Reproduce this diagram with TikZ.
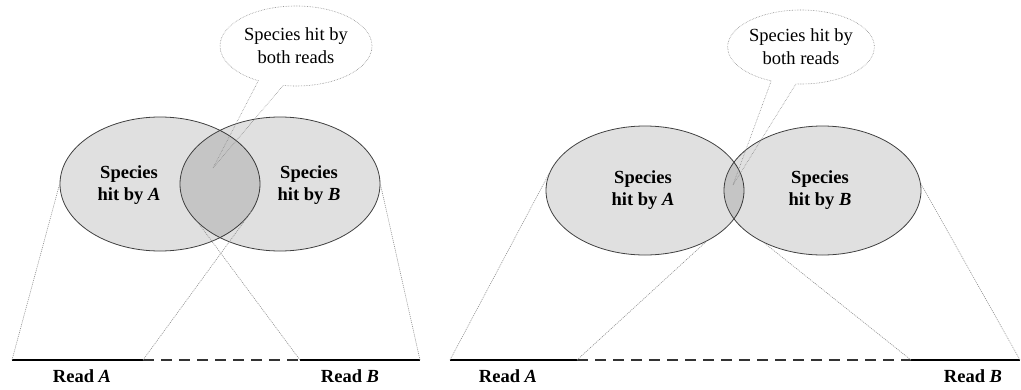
\documentclass[tikz,border=0pt]{standalone}
\usepackage{fontspec}
\setmainfont{Liberation Serif}
\usetikzlibrary{shapes.geometric,shapes.callouts}

\begin{document}
\begin{tikzpicture}[x=1pt,y=-1pt,
  set/.style={ellipse, draw=black!75, line width=0.8pt, fill=black,
              fill opacity=0.12, draw opacity=1, inner sep=0pt},
  setlbl/.style={font=\fontsize{18.5}{22}\selectfont\bfseries, align=center, inner sep=0pt},
  bubble/.style={ellipse callout, draw=black!45, densely dotted, line width=0.6pt,
                 callout pointer arc=20, inner sep=0pt,
                 font=\fontsize{18.5}{23}\selectfont, align=center},
  readline/.style={line width=2.2pt, black},
  gapline/.style={line width=2.2pt, black!80, dash pattern=on 11pt off 7pt},
  readlbl/.style={font=\fontsize{18.5}{22}\selectfont\bfseries, inner sep=0pt},
  guide/.style={draw=black!45, line width=0.6pt, dash pattern=on 1pt off 1pt}]

\useasboundingbox (0,0) rectangle (1021,389);

% ---------- left panel: large overlap ----------
\node[set, minimum width=200pt, minimum height=134pt] (lA) at (160,184) {};
\node[set, minimum width=200pt, minimum height=134pt] (lB) at (280,184) {};
\node[setlbl] (ltA) at (129,185) {Species\\hit by \textit{A}};
\node[setlbl] (ltB) at (309,185) {Species\\hit by \textit{B}};

\coordinate (la0) at (12,360);
\coordinate (la1) at (143,360);
\coordinate (lb0) at (300,360);
\coordinate (lb1) at (420,360);
\draw[readline] (la0) -- (la1);
\draw[gapline] (la1) -- (lb0);
\draw[readline] (lb0) -- (lb1);
\node[readlbl] (lra) at (82,376) {Read \textit{A}};
\node[readlbl] (lrb) at (350,376) {Read \textit{B}};

\draw[guide] (la0) -- (lA.west);
\draw[guide] (la1) -- (lA.-15);
\draw[guide] (lb0) -- (lB.-154);
\draw[guide] (lb1) -- (lB.east);

\coordinate (lboth) at (213,168);
\node[bubble, minimum width=152pt, minimum height=80pt,
      callout absolute pointer=(lboth)] (lcall) at (296,46) {Species hit by\\both reads};

% ---------- right panel: small overlap ----------
\node[set, minimum width=198pt, minimum height=129pt] (rA) at (645,190.5) {};
\node[set, minimum width=197pt, minimum height=129pt] (rB) at (822.5,190.5) {};
\node[setlbl] (rtA) at (643,190) {Species\\hit by \textit{A}};
\node[setlbl] (rtB) at (820,190) {Species\\hit by \textit{B}};

\coordinate (ra0) at (450,360);
\coordinate (ra1) at (577,360);
\coordinate (rb0) at (911,360);
\coordinate (rb1) at (1020,360);
\draw[readline] (ra0) -- (ra1);
\draw[gapline] (ra1) -- (rb0);
\draw[readline] (rb0) -- (rb1);
\node[readlbl] (rra) at (508,376) {Read \textit{A}};
\node[readlbl] (rrb) at (973,376) {Read \textit{B}};

\draw[guide] (ra0) -- (rA.170);
\draw[guide] (ra1) -- (rA.-40);
\draw[guide] (rb0) -- (rB.-138);
\draw[guide] (rb1) -- (rB.4);

\coordinate (rboth) at (733,185);
\node[bubble, minimum width=146pt, minimum height=74pt,
      callout absolute pointer=(rboth)] (rcall) at (801,47) {Species hit by\\both reads};
\end{tikzpicture}
\end{document}
